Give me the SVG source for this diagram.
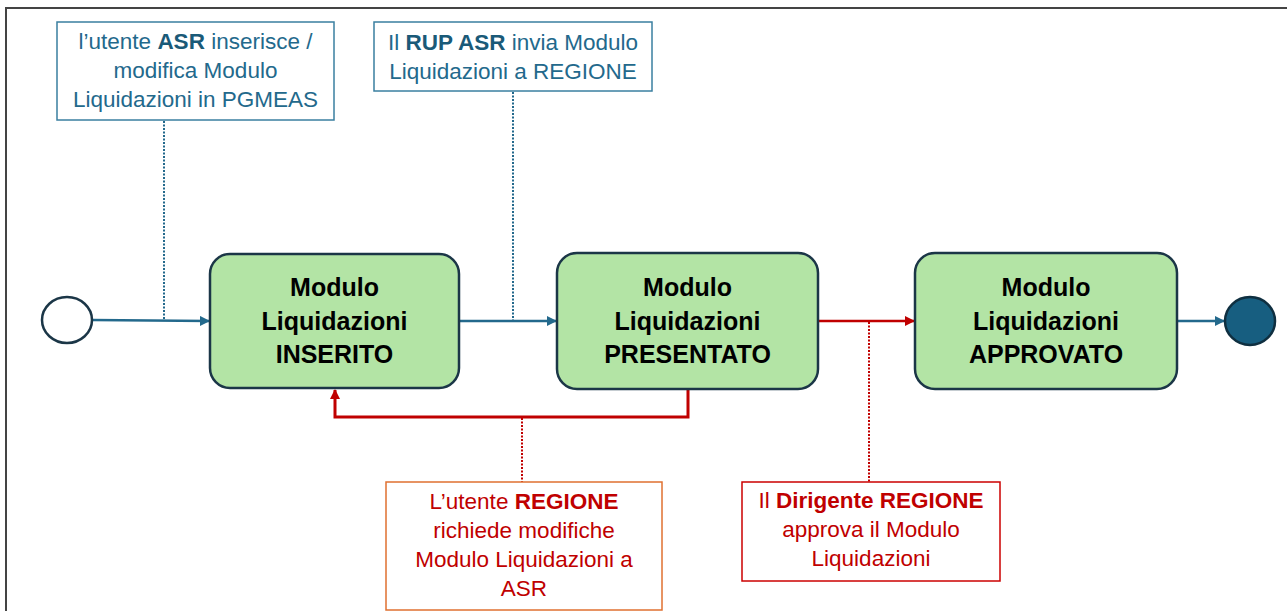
<svg xmlns="http://www.w3.org/2000/svg" width="1287" height="611" viewBox="0 0 1287 611">
<style>
.note{font-family:"Liberation Sans",Arial,sans-serif;font-size:22.5px;text-anchor:middle}
.blue{fill:#23698c}
.red{fill:#c00000}
.node{font-family:"Liberation Sans",Arial,sans-serif;font-size:25px;font-weight:bold;text-anchor:middle;fill:#000}
.state{fill:#b3e4a5;stroke:#1b3647;stroke-width:2.5}
.b{font-weight:bold}
</style>
<defs>
<marker id="ab" markerWidth="10" markerHeight="10" refX="9" refY="5" orient="auto" markerUnits="userSpaceOnUse"><path d="M0,0 L10,5 L0,10 z" fill="#23698c"/></marker>
<marker id="ar" markerWidth="10" markerHeight="10" refX="9" refY="5" orient="auto" markerUnits="userSpaceOnUse"><path d="M0,0 L10,5 L0,10 z" fill="#c00000"/></marker>
</defs>
<rect width="1287" height="611" fill="#fff"/>
<path d="M6,611 V8 H1287" fill="none" stroke="#444" stroke-width="2"/>

<g id="connectors" fill="none">
<line x1="92" y1="320" x2="209" y2="321" stroke="#23698c" stroke-width="2.5" marker-end="url(#ab)"/>
<line x1="459" y1="321" x2="556" y2="321" stroke="#23698c" stroke-width="2.5" marker-end="url(#ab)"/>
<line x1="818" y1="321" x2="914" y2="321" stroke="#c00000" stroke-width="2.5" marker-end="url(#ar)"/>
<line x1="1177" y1="321" x2="1224" y2="321" stroke="#23698c" stroke-width="2.5" marker-end="url(#ab)"/>
<path d="M688,389 V417 H335 V390" stroke="#c00000" stroke-width="3" marker-end="url(#ar)"/>
<line x1="164" y1="121" x2="164" y2="320" stroke="#23698c" stroke-width="2" stroke-dasharray="2 1.5"/>
<line x1="513" y1="92" x2="513" y2="321" stroke="#23698c" stroke-width="2" stroke-dasharray="2 1.5"/>
<line x1="522" y1="418" x2="522" y2="482" stroke="#c00000" stroke-width="2" stroke-dasharray="2 1.5"/>
<line x1="869" y1="322" x2="869" y2="482" stroke="#c00000" stroke-width="2" stroke-dasharray="2 1.5"/>
</g>

<g id="start"><ellipse cx="67" cy="320" rx="25" ry="23" fill="#fff" stroke="#1b3647" stroke-width="2.5"/></g>
<g id="end"><ellipse cx="1250" cy="321" rx="25" ry="24" fill="#175e80" stroke="#0f2f40" stroke-width="2.5"/></g>

<g id="inserito">
<rect class="state" x="210" y="254" width="249" height="134" rx="20"/>
<text class="node" x="334.5" y="296">Modulo</text>
<text class="node" x="334.5" y="330">Liquidazioni</text>
<text class="node" x="334.5" y="363">INSERITO</text>
</g>
<g id="presentato">
<rect class="state" x="557" y="253" width="261" height="136" rx="20"/>
<text class="node" x="687.5" y="296">Modulo</text>
<text class="node" x="687.5" y="330">Liquidazioni</text>
<text class="node" x="687.5" y="363">PRESENTATO</text>
</g>
<g id="approvato">
<rect class="state" x="915" y="253" width="262" height="136" rx="20"/>
<text class="node" x="1046" y="296">Modulo</text>
<text class="node" x="1046" y="330">Liquidazioni</text>
<text class="node" x="1046" y="363">APPROVATO</text>
</g>

<g id="note-asr">
<rect x="57" y="22" width="277" height="98" fill="#fff" stroke="#3a7fa0" stroke-width="1.5"/>
<text class="note blue" x="195.5" y="49">l’utente <tspan class="b" fill="#1a5a78">ASR</tspan> inserisce /</text>
<text class="note blue" x="195.5" y="78">modifica Modulo</text>
<text class="note blue" x="195.5" y="107">Liquidazioni in PGMEAS</text>
</g>
<g id="note-rup">
<rect x="374" y="22" width="278" height="69" fill="#fff" stroke="#3a7fa0" stroke-width="1.5"/>
<text class="note blue" x="513" y="50">Il <tspan class="b" fill="#1a5a78">RUP ASR</tspan> invia Modulo</text>
<text class="note blue" x="513" y="79">Liquidazioni a REGIONE</text>
</g>
<g id="note-regione">
<rect x="386" y="482" width="276" height="128" fill="#fff" stroke="#e07030" stroke-width="1.5"/>
<text class="note red" x="524" y="509">L’utente <tspan class="b">REGIONE</tspan></text>
<text class="note red" x="524" y="538">richiede modifiche</text>
<text class="note red" x="524" y="567">Modulo Liquidazioni a</text>
<text class="note red" x="524" y="596">ASR</text>
</g>
<g id="note-dirigente">
<rect x="742" y="482" width="258" height="99" fill="#fff" stroke="#cc0000" stroke-width="1.5"/>
<text class="note red" x="871" y="508">Il <tspan class="b">Dirigente REGIONE</tspan></text>
<text class="note red" x="871" y="537">approva il Modulo</text>
<text class="note red" x="871" y="566">Liquidazioni</text>
</g>
</svg>
